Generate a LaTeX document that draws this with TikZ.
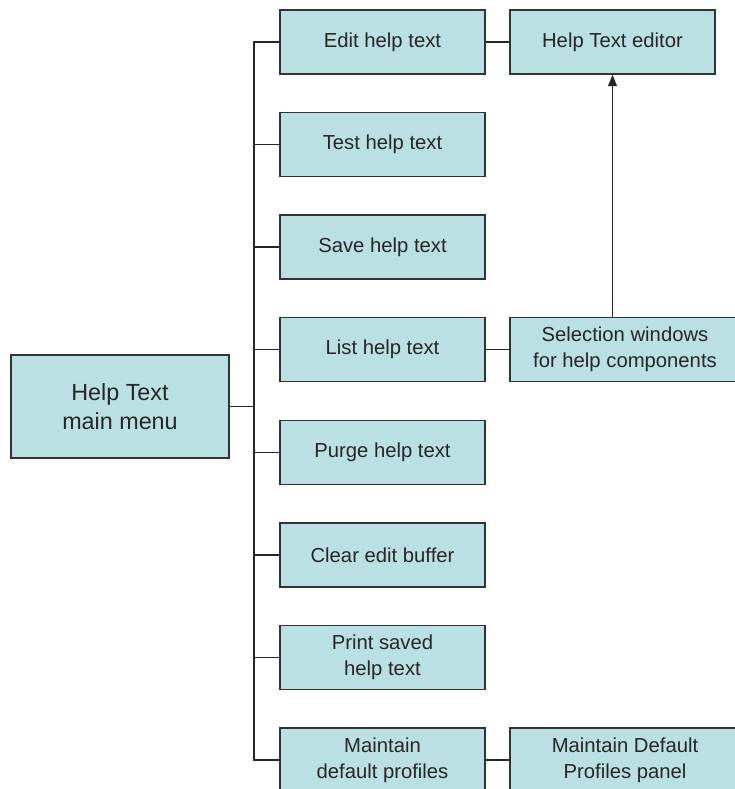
\documentclass[tikz,border=0pt]{standalone}
\usepackage{fontspec}
\setmainfont{Liberation Sans}
\usetikzlibrary{arrows.meta, positioning}

\definecolor{boxfill}{RGB}{187,224,227}
\definecolor{boxline}{RGB}{51,51,51}

\tikzset{
    menubox/.style={draw=boxline, fill=boxfill, line width=1pt, align=center,
        minimum width=153.75pt, minimum height=48pt, inner sep=0pt,
        font=\fontsize{15.2}{19.5}\selectfont, text=black!85},
    widebox/.style={menubox, minimum width=172.5pt},
    link/.style={draw=black!85, line width=1pt}
}

\begin{document}
\begin{tikzpicture}[x=0.75pt, y=-0.75pt]

    \useasboundingbox (0,0) rectangle (735,789);
    \clip (0,0) rectangle (735,789);

    % 1. 主菜单
    \node[menubox, minimum width=163.5pt, minimum height=77.25pt,
        font=\fontsize{17.5}{21.75}\selectfont] (main) at (120, 406.5) {Help Text\\main menu};

    % 2. 子菜单列
    \node[menubox] (edit)  at (382.5, 42)    {Edit help text};
    \node[menubox] (test)  at (382.5, 144.6) {Test help text};
    \node[menubox] (save)  at (382.5, 247.1) {Save help text};
    \node[menubox] (list)  at (382.5, 349.7) {List help text};
    \node[menubox] (purge) at (382.5, 452.3) {Purge help text};
    \node[menubox] (clear) at (382.5, 554.9) {Clear edit buffer};
    \node[menubox] (print) at (382.5, 657.4) {Print saved\\help text};
    \node[menubox] (maint) at (382.5, 760)   {Maintain\\default profiles};

    % 3. 右侧面板
    \node[menubox] (editor) at (612.5, 42)  {Help Text editor};
    \node[widebox] (select) at (625, 349.7) {Selection windows\\for help components};
    \node[widebox] (panel)  at (625, 760)   {Maintain Default\\Profiles panel};

    % 树干
    \coordinate (trunk) at (254, 406.5);
    \draw[link] (main.east) -- (trunk);
    \draw[link] (edit.west) -| (trunk |- maint.west) -- (maint.west);
    \draw[link] (trunk |- test.west) -- (test.west);
    \draw[link] (trunk |- save.west) -- (save.west);
    \draw[link] (trunk |- list.west) -- (list.west);
    \draw[link] (trunk |- purge.west) -- (purge.west);
    \draw[link] (trunk |- clear.west) -- (clear.west);
    \draw[link] (trunk |- print.west) -- (print.west);

    % 连接到右侧
    \draw[link] (edit.east) -- (editor.west);
    \draw[link] (list.east) -- (select.west);
    \draw[link] (maint.east) -- (panel.west);
    \draw[link, -{Triangle[length=8.5pt, width=6.5pt]}] (select.north -| editor.south) -- (editor.south);

\end{tikzpicture}
\end{document}
